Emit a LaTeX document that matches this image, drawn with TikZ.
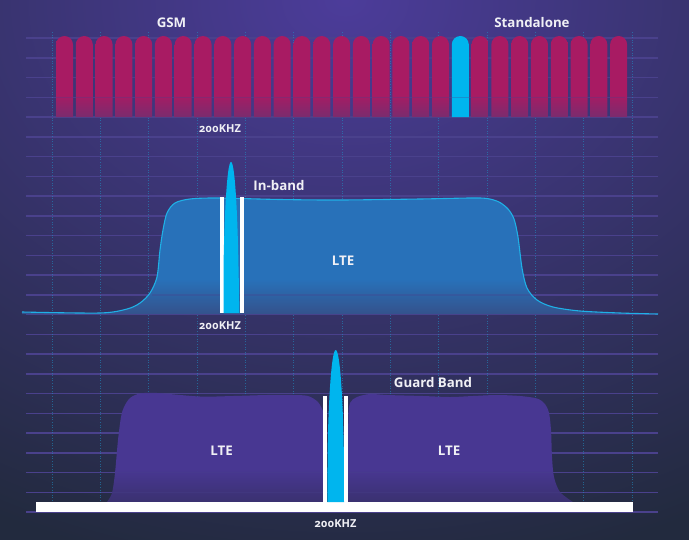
\documentclass[tikz,border=0pt]{standalone}
\usepackage{fontspec}
\setmainfont{Open Sans}
\newfontfamily\khzfont[Numbers=OldStyle]{Open Sans}
\definecolor{bgcol}{HTML}{222A3E}
\definecolor{glowcol}{HTML}{4C3C9A}
\definecolor{gridcol}{HTML}{4A418C}
\definecolor{dotcol}{HTML}{1F93C8}
\definecolor{gsmtop}{HTML}{A81B63}
\definecolor{gsmbot}{HTML}{7A2C6E}
\definecolor{cyancol}{HTML}{00B5EE}
\definecolor{ltetop}{HTML}{2871B9}
\definecolor{ltebot}{HTML}{34528C}
\definecolor{ltestroke}{HTML}{1FB0E6}
\definecolor{purtop}{HTML}{483792}
\definecolor{purbot}{HTML}{3A3170}
\definecolor{txtcol}{HTML}{F0F0F5}
\pgfdeclareverticalshading{gsmshade}{100bp}{color(0bp)=(gsmbot); color(25bp)=(gsmbot); color(39bp)=(gsmtop); color(100bp)=(gsmtop)}
\pgfdeclareverticalshading{lteshade}{100bp}{color(0bp)=(ltebot); color(25bp)=(ltebot); color(40bp)=(ltetop); color(100bp)=(ltetop)}
\pgfdeclareverticalshading{purshade}{100bp}{color(0bp)=(purbot); color(25bp)=(purbot); color(40bp)=(purtop); color(100bp)=(purtop)}
\begin{document}
\begin{tikzpicture}[x=1pt,y=-1pt,
  gridline/.style={draw=gridcol, line width=1.5pt},
  vdot/.style={draw=dotcol, line width=0.8pt, dash pattern=on 1pt off 1.6pt, opacity=0.55},
  gsmbar/.style={shading=gsmshade},
  cyanbar/.style={fill=cyancol},
  ltefill/.style={shading=lteshade},
  lteline/.style={draw=ltestroke, line width=1.1pt},
  purfill/.style={shading=purshade},
  whitebar/.style={fill=white},
  lbl/.style={text=txtcol, inner sep=0pt, anchor=base, font=\bfseries\fontsize{13.3}{16}\selectfont},
  khz/.style={text=txtcol, inner sep=0pt, anchor=base, font=\khzfont\bfseries\fontsize{11}{13}\selectfont}]
\useasboundingbox (0,0) rectangle (689,539);
\begin{scope}
\clip (0,0) rectangle (689,539);
\shade[inner color=glowcol, outer color=bgcol] (-415,-580) rectangle (1105,580);
\end{scope}
% grid
\foreach \k in {0,...,24} \draw[gridline] (26,{38+19.75*\k}) -- (658,{38+19.75*\k});
\foreach \k in {0,...,12} \draw[vdot] ({52+48.33*\k},32) -- ({52+48.33*\k},512);
% GSM bars
\foreach \k in {0,...,19,21,22,...,28} {
  \pgfmathsetmacro\bx{56+19.79*\k}
  \shade[gsmbar] (\bx,117) -- (\bx,44.5) arc[start angle=180,end angle=0,radius=8.5pt] -- ({\bx+17},117) -- cycle;
}
\fill[cyanbar] (451.8,117) -- (451.8,44.5) arc[start angle=180,end angle=0,radius=8.5pt] -- (468.8,117) -- cycle;
\draw[gridline, opacity=0.3] (56,97.25) -- (625,97.25);
% In-band LTE
\shade[ltefill] plot[smooth,tension=0.5] coordinates {(22,312) (100,313) (127,309) (140,303) (150,293) (157,277) (160,250) (163,230) (167,213) (175,203) (190,199) (217,198) (280,199.5) (340,200) (420,199) (470,198) (487,198.5) (499,202) (508,209) (514,219) (518,237) (522,268) (527,288) (537,300) (553,307) (580,311) (620,313) (658,314)} -- (658,314) -- (22,314) -- cycle;
\draw[gridline, opacity=0.3] (152,294.75) -- (536,294.75);
\draw[lteline] plot[smooth,tension=0.5] coordinates {(22,312) (100,313) (127,309) (140,303) (150,293) (157,277) (160,250) (163,230) (167,213) (175,203) (190,199) (217,198) (280,199.5) (340,200) (420,199) (470,198) (487,198.5) (499,202) (508,209) (514,219) (518,237) (522,268) (527,288) (537,300) (553,307) (580,311) (620,313) (658,314)};
\fill[whitebar] (219.5,197) rectangle (223.5,313);
\fill[whitebar] (239.5,197) rectangle (243.5,313);
\fill[cyanbar] (223.5,313) -- (223.6,262) .. controls (224.5,215) and (227,162) .. (231,162) .. controls (235,162) and (237.5,215) .. (238.4,262) -- (239.5,313) -- cycle;
% Guard band LTE
\shade[purfill] plot[smooth,tension=0.5] coordinates {(107,502) (112,493) (115,473) (118,440) (121,417) (124,407) (130,398) (140,393.5) (157,393) (200,396.5) (233,396) (267,395) (293,395) (308,396) (318,402) (323,411)} -- (324,502) -- cycle;
\shade[purfill] plot[smooth,tension=0.5] coordinates {(348,502) (348.3,420) (350,403) (357,397) (370,394) (387,395) (423,396) (450,397) (473,396) (497,395) (520,396) (537,398.5) (545,404) (549,413) (551,430) (552,457) (554,477) (560,492) (573,502)} -- cycle;
\draw[gridline, opacity=0.3] (113,472.5) -- (554,472.5);
\draw[gridline, opacity=0.3] (111,492.25) -- (562,492.25);
\fill[whitebar] (35.5,502) rectangle (633,512);
\fill[whitebar] (323,396) rectangle (327.3,502);
\fill[whitebar] (344,396) rectangle (348.3,502);
\fill[cyanbar] (327.3,502) -- (327.6,450) .. controls (328.5,400) and (331.5,350) .. (335.7,350) .. controls (340,350) and (343,400) .. (343.8,450) -- (344,502) -- cycle;
% labels
\node[lbl] (gsm) at (171.5,27) {GSM};
\node[lbl] (standalone) at (532,27) {Standalone};
\node[khz] (khz1) at (220,132.5) {200KHZ};
\node[lbl] (inband) at (279,190) {In-band};
\node[lbl] (lte1) at (343,265) {LTE};
\node[khz] (khz2) at (220,329) {200KHZ};
\node[lbl] (guard) at (433,387) {Guard Band};
\node[lbl] (lte2) at (221.5,455) {LTE};
\node[lbl] (lte3) at (449,455) {LTE};
\node[khz] (khz3) at (335.5,527) {200KHZ};
\end{tikzpicture}
\end{document}
